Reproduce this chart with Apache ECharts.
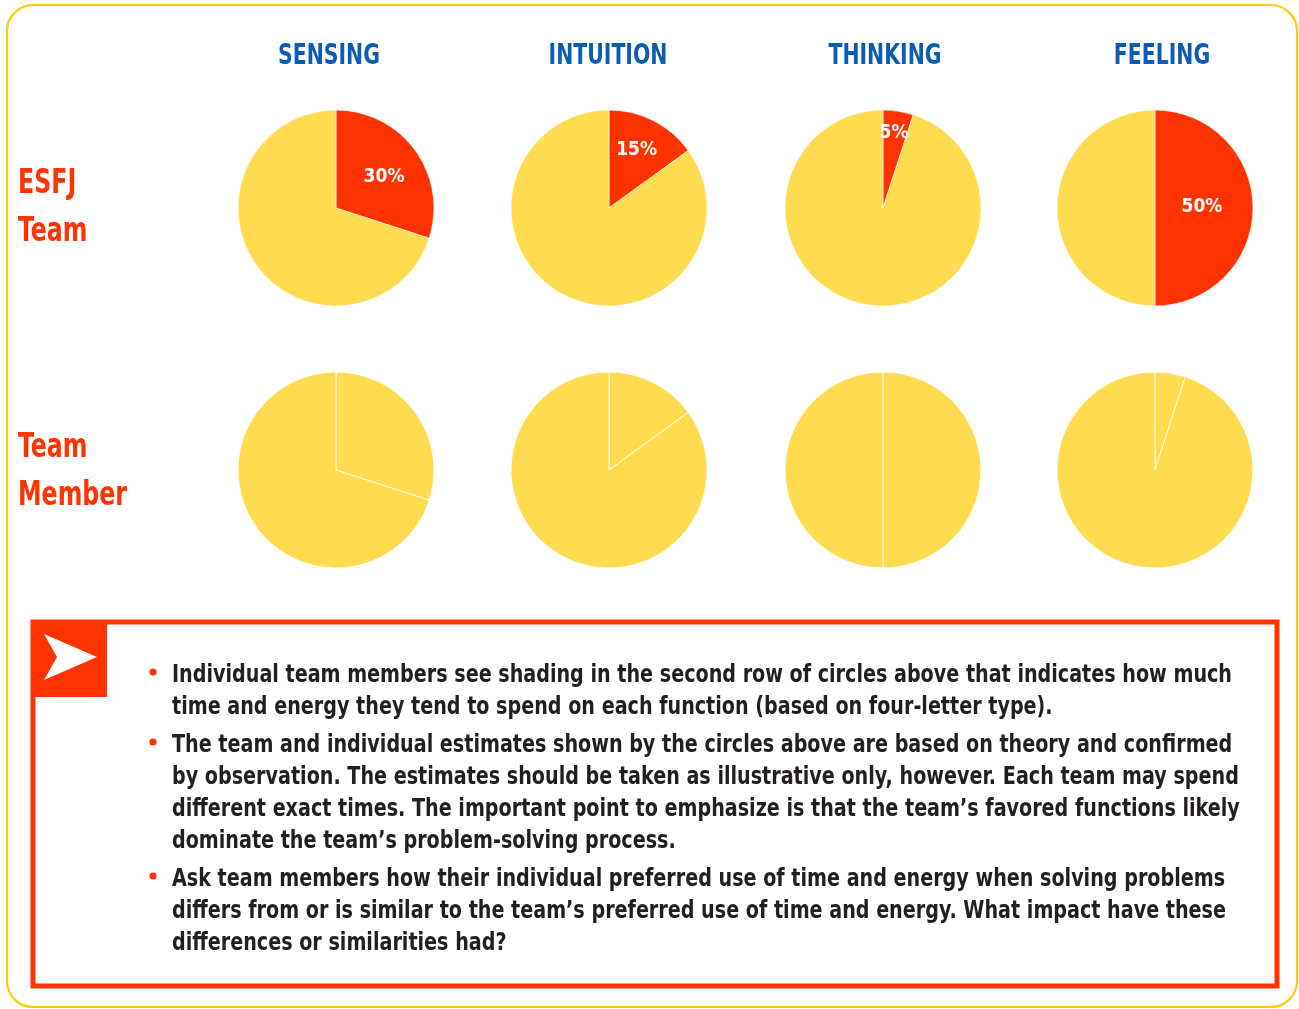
<!DOCTYPE html>
<html><head><meta charset="utf-8">
<script src="https://cdn.jsdelivr.net/npm/echarts@6/dist/echarts.min.js"></script>
<style>html,body{margin:0;padding:0;background:#fff;}#c{width:1299px;height:1009px;}</style>
</head><body><div id="c"></div>
<script>
const functions = ['SENSING', 'INTUITION', 'THINKING', 'FEELING'];
const rowLabels = [['ESFJ', 'Team'], ['Team', 'Member']];
const teamShare = [30, 15, 5, 50];
const memberShare = [30, 15, 50, 5];
const bulletLines = [
  ['Individual team members see shading in the second row of circles above that indicates how much',
   'time and energy they tend to spend on each function (based on four-letter type).'],
  ['The team and individual estimates shown by the circles above are based on theory and confirmed',
   'by observation. The estimates should be taken as illustrative only, however. Each team may spend',
   'different exact times. The important point to emphasize is that the team\u2019s favored functions likely',
   'dominate the team\u2019s problem-solving process.'],
  ['Ask team members how their individual preferred use of time and energy when solving problems',
   'differs from or is similar to the team\u2019s preferred use of time and energy. What impact have these',
   'differences or similarities had?']
];

const RED = '#FF3300', YEL = '#FFDB4F', BLUE = '#0A5CB4';
const FONT = '"Liberation Sans Narrow","DejaVu Sans Condensed","Roboto Condensed",sans-serif';
const colX = [336, 609, 883, 1155];
const headX = [329, 608, 885, 1162];
const rowY = [208, 470];
const labelOffsets = [[6, 0], [4, -12], [3, -24], [-5, -1]];

const cv = document.createElement('canvas').getContext('2d');
function fitScale(font, str, target) { cv.font = font; return target / cv.measureText(str).width; }

const headFont = 'bold 29px ' + FONT;
const headScale = fitScale(headFont, 'SENSING', 102);
const rowFont = 'bold 33px ' + FONT;
const rowScale = fitScale(rowFont, 'Member', 109);
const bodyFont = 'bold 25px ' + FONT;
const bodyScale = fitScale(bodyFont, bulletLines[0][0], 1060);
const pctFont = 'bold 20px ' + FONT;
const pctScale = fitScale(pctFont, '30%', 36);

const series = [];
functions.forEach((f, i) => {
  series.push({
    type: 'pie', center: [colX[i], rowY[0]], radius: 98, startAngle: 90, clockwise: true,
    silent: true, animation: false,
    itemStyle: { borderColor: '#fff', borderWidth: 0.6 },
    label: { show: false }, labelLine: { show: false },
    data: [
      { name: f + ' team', value: teamShare[i], itemStyle: { color: RED },
        label: { show: true, position: 'inside', formatter: '{c}%', color: '#fff',
                 fontFamily: FONT, fontWeight: 'bold', fontSize: 19, offset: labelOffsets[i] } },
      { name: f + ' rest', value: 100 - teamShare[i], itemStyle: { color: YEL } }
    ]
  });
  series.push({
    type: 'pie', center: [colX[i], rowY[1]], radius: 98, startAngle: 90, clockwise: true,
    silent: true, animation: false,
    itemStyle: { borderColor: '#fff', borderWidth: 0.8, color: YEL },
    label: { show: false }, labelLine: { show: false },
    data: [
      { name: f + ' member', value: memberShare[i] },
      { name: f + ' member rest', value: 100 - memberShare[i] }
    ]
  });
});

const graphic = [];
graphic.push({ type: 'rect', shape: { x: 7, y: 5, width: 1290, height: 1002, r: 26 },
  style: { fill: 'none', stroke: '#FFCC00', lineWidth: 2.2 }, z: 0 });
functions.forEach((f, i) => {
  graphic.push({ type: 'text', x: headX[i], y: 56, scaleX: headScale, style: { text: f, fill: BLUE,
    font: headFont, textAlign: 'center', textVerticalAlign: 'middle' } });
});
rowLabels.forEach((lines, r) => {
  const base = [184, 448][r];
  lines.forEach((t, k) => {
    graphic.push({ type: 'text', x: 18, y: base + k * 48, scaleX: rowScale, style: { text: t, fill: RED,
      font: rowFont, textAlign: 'left', textVerticalAlign: 'middle' } });
  });
});
// red note box
graphic.push({ type: 'rect', shape: { x: 33, y: 622, width: 1244, height: 364 },
  style: { fill: '#fff', stroke: RED, lineWidth: 5 } });
graphic.push({ type: 'rect', shape: { x: 31, y: 620, width: 76, height: 77 }, style: { fill: RED } });
graphic.push({ type: 'polygon', shape: { points: [[44, 634], [97, 657], [44, 680], [57, 657]] },
  style: { fill: '#fff' } });
let y = 675;
bulletLines.forEach((para, p) => {
  graphic.push({ type: 'circle', shape: { cx: 153, cy: y - 3, r: 3.6 }, style: { fill: RED } });
  para.forEach((t, k) => {
    graphic.push({ type: 'text', x: 172, y: y, scaleX: bodyScale, style: { text: t, fill: '#231F20',
      font: bodyFont, textAlign: 'left', textVerticalAlign: 'middle' } });
    y += 32;
  });
  y += 6;
});

const chart = echarts.init(document.getElementById('c'));
chart.setOption({ backgroundColor: '#fff', animation: false, series, graphic });
</script></body></html>
